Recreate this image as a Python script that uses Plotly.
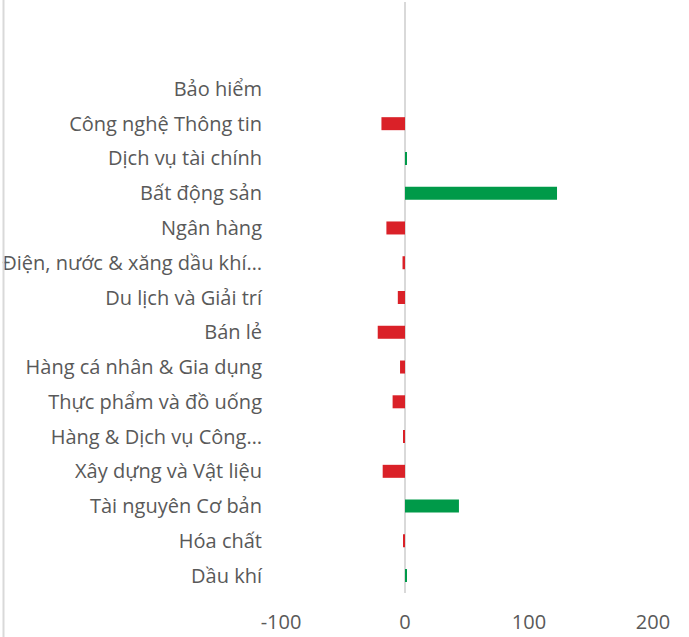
import plotly.graph_objects as go

categories = [
    "Bảo hiểm",
    "Công nghệ Thông tin",
    "Dịch vụ tài chính",
    "Bất động sản",
    "Ngân hàng",
    "Điện, nước & xăng dầu khí…",
    "Du lịch và Giải trí",
    "Bán lẻ",
    "Hàng cá nhân & Gia dụng",
    "Thực phẩm và đồ uống",
    "Hàng & Dịch vụ Công…",
    "Xây dựng và Vật liệu",
    "Tài nguyên Cơ bản",
    "Hóa chất",
    "Dầu khí",
]
values = [0, -19, 1.2, 122.6, -15, -2, -5.8, -22, -4, -10, -1.6, -18, 43.5, -1, 1.5]

x_ticks = [-100, 0, 100, 200]

RED = "#DA2128"
GREEN = "#009A49"
colors = [GREEN if v > 0 else RED for v in values]

fig = go.Figure(
    go.Bar(
        x=values,
        y=categories,
        orientation="h",
        marker=dict(color=colors, line=dict(width=0)),
    )
)

W, H = 689, 637
ml, mr, mt, mb = 281, 36, 2, 44
pw = W - ml - mr
ph = H - mt - mb

FONT = "Open Sans"
TXT = "#595959"

fig.update_layout(
    width=W,
    height=H,
    margin=dict(l=ml, r=mr, t=mt, b=mb, pad=0),
    paper_bgcolor="white",
    plot_bgcolor="white",
    bargap=0.626,
    showlegend=False,
    font=dict(family=FONT, size=20, color=TXT),
    xaxis=dict(
        range=[-100, 200],
        tickvals=x_ticks,
        ticktext=[str(t) for t in x_ticks],
        showgrid=False,
        zeroline=True,
        zerolinecolor="#D9D9D9",
        zerolinewidth=2,
        showline=False,
        ticks="",
        ticklabelstandoff=15,
        tickfont=dict(family=FONT, size=20, color=TXT),
    ),
    yaxis=dict(
        type="category",
        categoryorder="array",
        categoryarray=categories,
        range=[len(categories) - 0.5, -2.5],
        showgrid=False,
        zeroline=False,
        showline=False,
        ticks="",
        ticklabelstandoff=18,
        tickfont=dict(family=FONT, size=20, color=TXT),
    ),
    shapes=[
        dict(
            type="line",
            xref="paper",
            yref="paper",
            x0=(3.5 - ml) / pw,
            x1=(3.5 - ml) / pw,
            y0=-mb / ph,
            y1=1 + mt / ph,
            line=dict(color="#D9D9D9", width=2),
        )
    ],
)

fig.write_html(
    "out.html",
    config={"displayModeBar": False},
    post_script="document.body.style.margin='0';",
)
